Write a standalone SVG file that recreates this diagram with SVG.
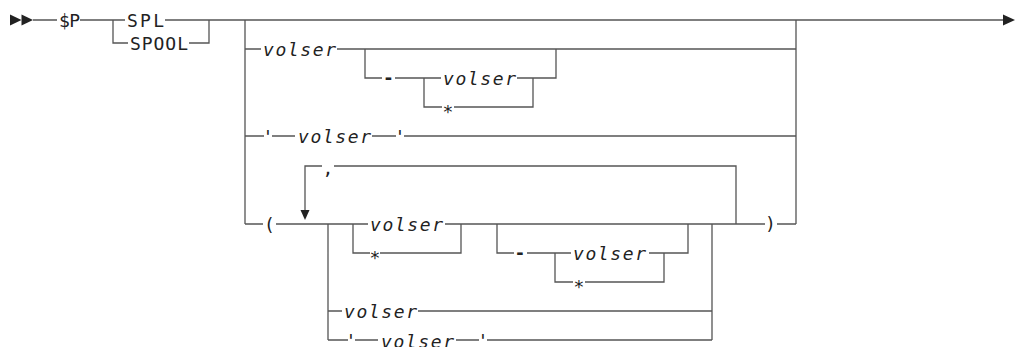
<svg xmlns="http://www.w3.org/2000/svg" width="1015" height="347" viewBox="0 0 1015 347">
<style>
.c{fill:none;stroke:#555;stroke-width:1.3}
.a{fill:#222;stroke:none}
text{font-family:"DejaVu Sans Mono","Liberation Mono",monospace;font-size:18px;fill:#222}
.v{font-style:italic}
.m{text-anchor:middle}
.d{font-weight:bold}
</style>
<rect width="1015" height="347" fill="#fff"/>
<g id="connectors">
<path class="c" d="M33,20H57M80,20H125M165,20H1003M113,20V43H128M189,43H209V20"/>
<path class="c" d="M245,20V224M796,20V224"/>
<path class="c" d="M245,49H261M337,49H796M365,49V78H382M395,78H441M424,78V107H442M454,107H533V78M517,78H556V49"/>
<path class="c" d="M245,136H264M272,136H295M372,136H396M404,136H796"/>
<path class="c" d="M245,224H263M276,224H368M445,224H765M777,224H796"/>
<path class="c" d="M305,210V166H322M334,166H736V224"/>
<path class="c" d="M328,224V340M712,224V340M353,224V253H370M380,253H461V224"/>
<path class="c" d="M497,224V253H514M527,253H571M555,253V282H573M585,282H664V253M649,253H688V224"/>
<path class="c" d="M328,311H342M418,311H712M328,340H348M355,340H378M456,340H479M487,340H712"/>
<polygon class="a" points="10,14.5 21.5,20 10,25.5"/>
<polygon class="a" points="21.5,14.5 33,20 21.5,25.5"/>
<polygon class="a" points="1003,14.5 1015,20 1003,25.5"/>
<polygon class="a" points="300.5,210 309.5,210 305,220"/>
</g>
<g id="n-sp"><text x="59" y="27" textLength="21" lengthAdjust="spacing">$P</text></g>
<g id="n-spl"><text x="127" y="27" textLength="37" lengthAdjust="spacing">SPL</text></g>
<g id="n-spool"><text x="130" y="50" textLength="58" lengthAdjust="spacing">SPOOL</text></g>
<g id="n-volser1"><text class="v" x="263" y="55.5" textLength="73" lengthAdjust="spacing">volser</text></g>
<g id="n-dash1"><text class="m d" x="388.5" y="84">-</text></g>
<g id="n-volser2"><text class="v" x="443" y="84.5" textLength="73" lengthAdjust="spacing">volser</text></g>
<g id="n-star1"><text class="m" x="448" y="118">*</text></g>
<g id="n-quoted1"><text class="m" x="268" y="142.5">'</text><text class="v" x="298" y="142.5" textLength="73" lengthAdjust="spacing">volser</text><text class="m" x="400" y="142.5">'</text></g>
<g id="n-lparen"><text class="m" x="269.5" y="230.5">(</text></g>
<g id="n-comma"><text class="m" x="328" y="175">,</text></g>
<g id="n-volser3"><text class="v" x="370" y="230.5" textLength="73" lengthAdjust="spacing">volser</text></g>
<g id="n-star2"><text class="m" x="375" y="264">*</text></g>
<g id="n-dash2"><text class="m d" x="520" y="259">-</text></g>
<g id="n-volser4"><text class="v" x="573" y="259.5" textLength="73" lengthAdjust="spacing">volser</text></g>
<g id="n-star3"><text class="m" x="579" y="293">*</text></g>
<g id="n-volser5"><text class="v" x="344" y="317.5" textLength="73" lengthAdjust="spacing">volser</text></g>
<g id="n-quoted2"><text class="m" x="351" y="347">'</text><text class="v" x="381" y="347.5" textLength="73" lengthAdjust="spacing">volser</text><text class="m" x="483" y="347">'</text></g>
<g id="n-rparen"><text class="m" x="770.5" y="230">)</text></g>
</svg>
